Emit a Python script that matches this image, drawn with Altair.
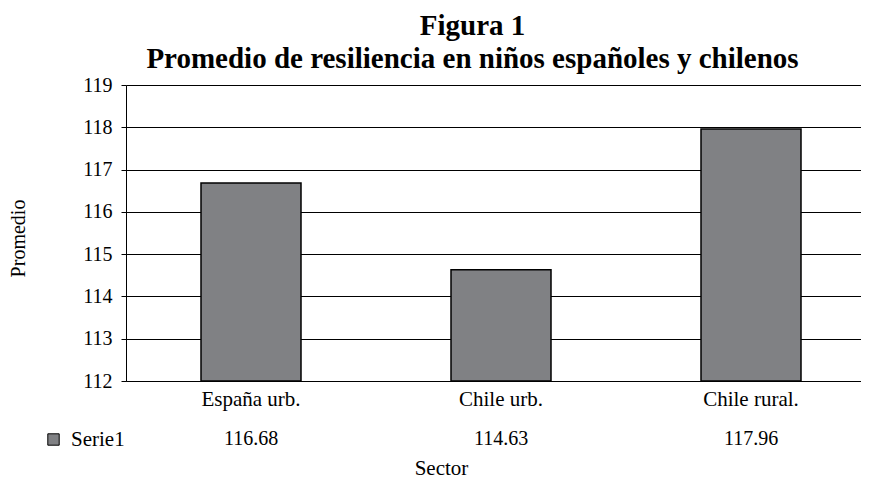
import altair as alt
import pandas as pd

sectores = ["España urb.", "Chile urb.", "Chile rural."]
promedios = [116.68, 114.63, 117.96]
serie = ["Serie1", "Serie1", "Serie1"]
y_ticks = [112, 113, 114, 115, 116, 117, 118, 119]

df = pd.DataFrame({"Sector": sectores, "Promedio": promedios, "Serie": serie})

FONT = "Liberation Serif"
W, H = 735, 296
GRAY = "#808184"

base = alt.Chart(df)

x_enc = alt.X(
    "Sector:N",
    sort=None,
    scale=alt.Scale(range=[0, 750], paddingInner=0.6, paddingOuter=0.3),
    axis=alt.Axis(
        title="Sector",
        titleFont=FONT, titleFontSize=21, titleFontWeight="normal", titleColor="black",
        titleX=315, titleY=87, titleBaseline="middle", titleAlign="center",
        labelFont=FONT, labelFontSize=21, labelColor="black", labelPadding=7,
        labelAngle=0, ticks=False, domainColor="black", domainWidth=1,
        grid=False,
    ),
)

bars = base.mark_bar(stroke="black", strokeWidth=1.5).encode(
    x=x_enc,
    y=alt.Y(
        "Promedio:Q",
        scale=alt.Scale(domain=[112, 119], zero=False, nice=False),
        axis=alt.Axis(
            title="Promedio", values=y_ticks, format="d",
            titleFont=FONT, titleFontSize=20, titleFontWeight="normal", titleColor="black",
            titleX=-108, titleY=153, titleAngle=-90, titleBaseline="middle", titleAlign="center",
            labelFont=FONT, labelFontSize=20, labelColor="black", labelPadding=9,
            tickSize=5, tickColor="black", domainColor="black", domainWidth=1,
            grid=True, gridColor="black", gridWidth=1, gridOpacity=1,
        ),
    ),
    y2=alt.datum(112),
    color=alt.Color(
        "Serie:N",
        scale=alt.Scale(range=[GRAY]),
        legend=alt.Legend(
            title=None, orient="none", legendX=-83, legendY=344,
            symbolType="square", symbolSize=130, symbolStrokeColor="black",
            symbolStrokeWidth=1, symbolFillColor=GRAY, symbolOpacity=1,
            labelFont=FONT, labelFontSize=21, labelColor="black", labelOffset=7,
            padding=0,
        ),
    ),
)

values = base.mark_text(font=FONT, fontSize=20, color="black", baseline="middle").encode(
    x=alt.X("Sector:N", sort=None),
    y=alt.value(H + 58),
    text=alt.Text("Promedio:Q", format=".2f"),
)

chart = (
    alt.layer(bars, values)
    .properties(
        width=W,
        height=H,
        autosize=alt.AutoSizeParams(type="none"),
        padding={"left": 118, "top": 77, "right": 0, "bottom": 98},
        title=alt.Title(
            ["Figura 1", "Promedio de resiliencia en niños españoles y chilenos"],
            font=FONT, fontSize=29, fontWeight="bold", color="black",
            anchor="middle", dx=-21, offset=1, lineHeight=33,
        ),
    )
    .configure_view(stroke=None)
    .configure(background="white")
)

chart.save("out.html", embed_options={"renderer": "svg", "actions": False})
